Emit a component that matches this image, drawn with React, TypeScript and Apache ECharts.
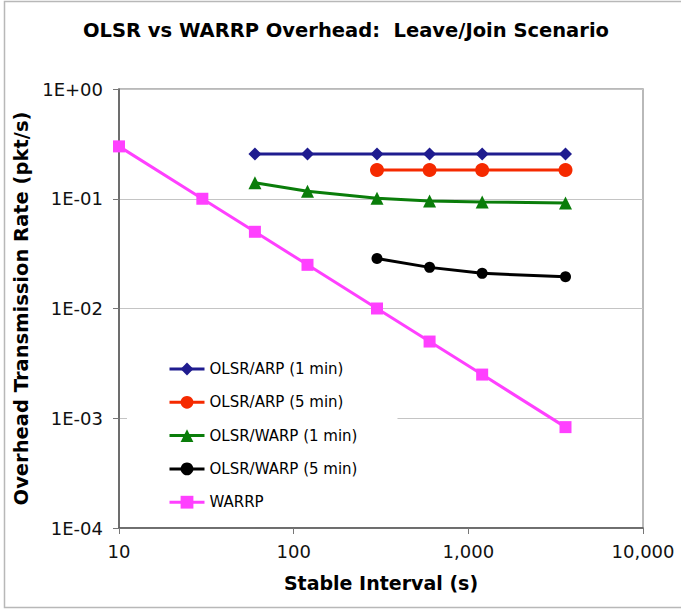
import React, { useEffect, useRef } from "react";
import * as echarts from "echarts";

const titleText = "OLSR vs WARRP Overhead:  Leave/Join Scenario";
const xAxisTitle = "Stable Interval (s)";
const yAxisTitle = "Overhead Transmission Rate (pkt/s)";

const xTickValues = [10, 100, 1000, 10000];
const xTickLabels = ["10", "100", "1,000", "10,000"];
const yTickValues = [0.0001, 0.001, 0.01, 0.1, 1];
const yTickLabels = ["1E-04", "1E-03", "1E-02", "1E-01", "1E+00"];

const olsrArp1X = [60, 120, 300, 600, 1200, 3600];
const olsrArp1Y = [0.256, 0.256, 0.256, 0.256, 0.256, 0.256];

const olsrArp5X = [300, 600, 1200, 3600];
const olsrArp5Y = [0.183, 0.183, 0.183, 0.183];

const olsrWarp1X = [60, 120, 300, 600, 1200, 3600];
const olsrWarp1Y = [0.14, 0.117, 0.101, 0.0955, 0.0935, 0.0915];

const olsrWarp5X = [300, 600, 1200, 3600];
const olsrWarp5Y = [0.0286, 0.0237, 0.0209, 0.0195];

const warrpX = [10, 30, 60, 120, 300, 600, 1200, 3600];
const warrpY = [0.3, 0.1, 0.05, 0.025, 0.01, 0.005, 0.0025, 0.00083];

const seriesNames = [
  "OLSR/ARP (1 min)",
  "OLSR/ARP (5 min)",
  "OLSR/WARP (1 min)",
  "OLSR/WARP (5 min)",
  "WARRP",
];

const zip = (xs: number[], ys: number[]) => xs.map((x, i) => [x, ys[i]]);

function labelFor(values: number[], labels: string[], v: number) {
  for (let i = 0; i < values.length; i++) {
    if (Math.abs(Math.log10(values[i]) - Math.log10(v)) < 1e-6) return labels[i];
  }
  return "";
}

export default function App() {
  const ref = useRef<HTMLDivElement>(null);
  useEffect(() => {
    if (!ref.current) return;
    const chart = echarts.init(ref.current, undefined, { renderer: "svg" });
    const font = "DejaVu Sans, Verdana, sans-serif";
    const mk = (
      name: string,
      xs: number[],
      ys: number[],
      color: string,
      symbol: string,
      size: number
    ) => ({
      name,
      type: "line",
      data: zip(xs, ys),
      symbol,
      symbolSize: size,
      showSymbol: true,
      lineStyle: { color, width: 3 },
      itemStyle: { color },
      emphasis: { disabled: true },
    });
    chart.setOption({
      animation: false,
      backgroundColor: "#ffffff",
      textStyle: { fontFamily: font },
      title: {
        text: titleText,
        left: 78,
        top: 15,
        textStyle: {
          fontFamily: font,
          fontWeight: "bold",
          fontSize: 19.5,
          color: "#000",
        },
      },
      graphic: [
        {
          type: "rect",
          shape: { x: 4.5, y: 1.5, width: 700, height: 606 },
          style: { fill: "none", stroke: "#b8b8b8", lineWidth: 1.5 },
          silent: true,
        },
      ],
      grid: {
        left: 119,
        right: 38,
        top: 89,
        bottom: 82,
        show: true,
        borderColor: "#a3a3a3",
        borderWidth: 1.5,
        backgroundColor: "transparent",
      },
      legend: {
        orient: "vertical",
        left: 127,
        top: 349,
        padding: [12, 40, 12, 41],
        backgroundColor: "#ffffff",
        itemWidth: 35,
        itemHeight: 16,
        itemGap: 17.3,
        data: seriesNames,
        lineStyle: { width: 3 },
        textStyle: { fontFamily: font, fontSize: 15, color: "#000", lineHeight: 16 },
        selectedMode: false,
      },
      xAxis: {
        type: "log",
        logBase: 10,
        min: 10,
        max: 10000,
        name: xAxisTitle,
        nameLocation: "middle",
        nameGap: 45,
        nameTextStyle: {
          fontFamily: font,
          fontWeight: "bold",
          fontSize: 19,
          color: "#000",
        },
        axisLine: { show: true, lineStyle: { color: "#555", width: 1.5 } },
        axisTick: { show: true, length: 6, lineStyle: { color: "#777", width: 1 } },
        splitLine: { show: false },
        axisLabel: {
          fontFamily: font,
          fontSize: 18,
          color: "#111",
          margin: 14,
          formatter: (v: number) => labelFor(xTickValues, xTickLabels, v),
        },
      },
      yAxis: {
        type: "log",
        logBase: 10,
        min: 0.0001,
        max: 1,
        name: yAxisTitle,
        nameLocation: "middle",
        nameGap: 82,
        nameTextStyle: {
          fontFamily: font,
          fontWeight: "bold",
          fontSize: 19.5,
          color: "#000",
        },
        axisLine: { show: true, lineStyle: { color: "#555", width: 1.5 } },
        axisTick: { show: true, length: 6, lineStyle: { color: "#777", width: 1 } },
        splitLine: { show: true, lineStyle: { color: "#c4c4c4", width: 1 } },
        axisLabel: {
          fontFamily: font,
          fontSize: 18,
          color: "#111",
          margin: 16,
          formatter: (v: number) => labelFor(yTickValues, yTickLabels, v),
        },
      },
      series: [
        mk(seriesNames[0], olsrArp1X, olsrArp1Y, "#1f1c8f", "diamond", 13),
        mk(seriesNames[1], olsrArp5X, olsrArp5Y, "#f52a00", "circle", 14),
        mk(seriesNames[2], olsrWarp1X, olsrWarp1Y, "#0a7d0a", "triangle", 13),
        mk(seriesNames[3], olsrWarp5X, olsrWarp5Y, "#000000", "circle", 11),
        mk(seriesNames[4], warrpX, warrpY, "#ff40ff", "rect", 12),
      ],
    });
    return () => chart.dispose();
  }, []);
  return (
    <div
      ref={ref}
      style={{ position: "fixed", left: 0, top: 0, width: 681, height: 610 }}
    />
  );
}
